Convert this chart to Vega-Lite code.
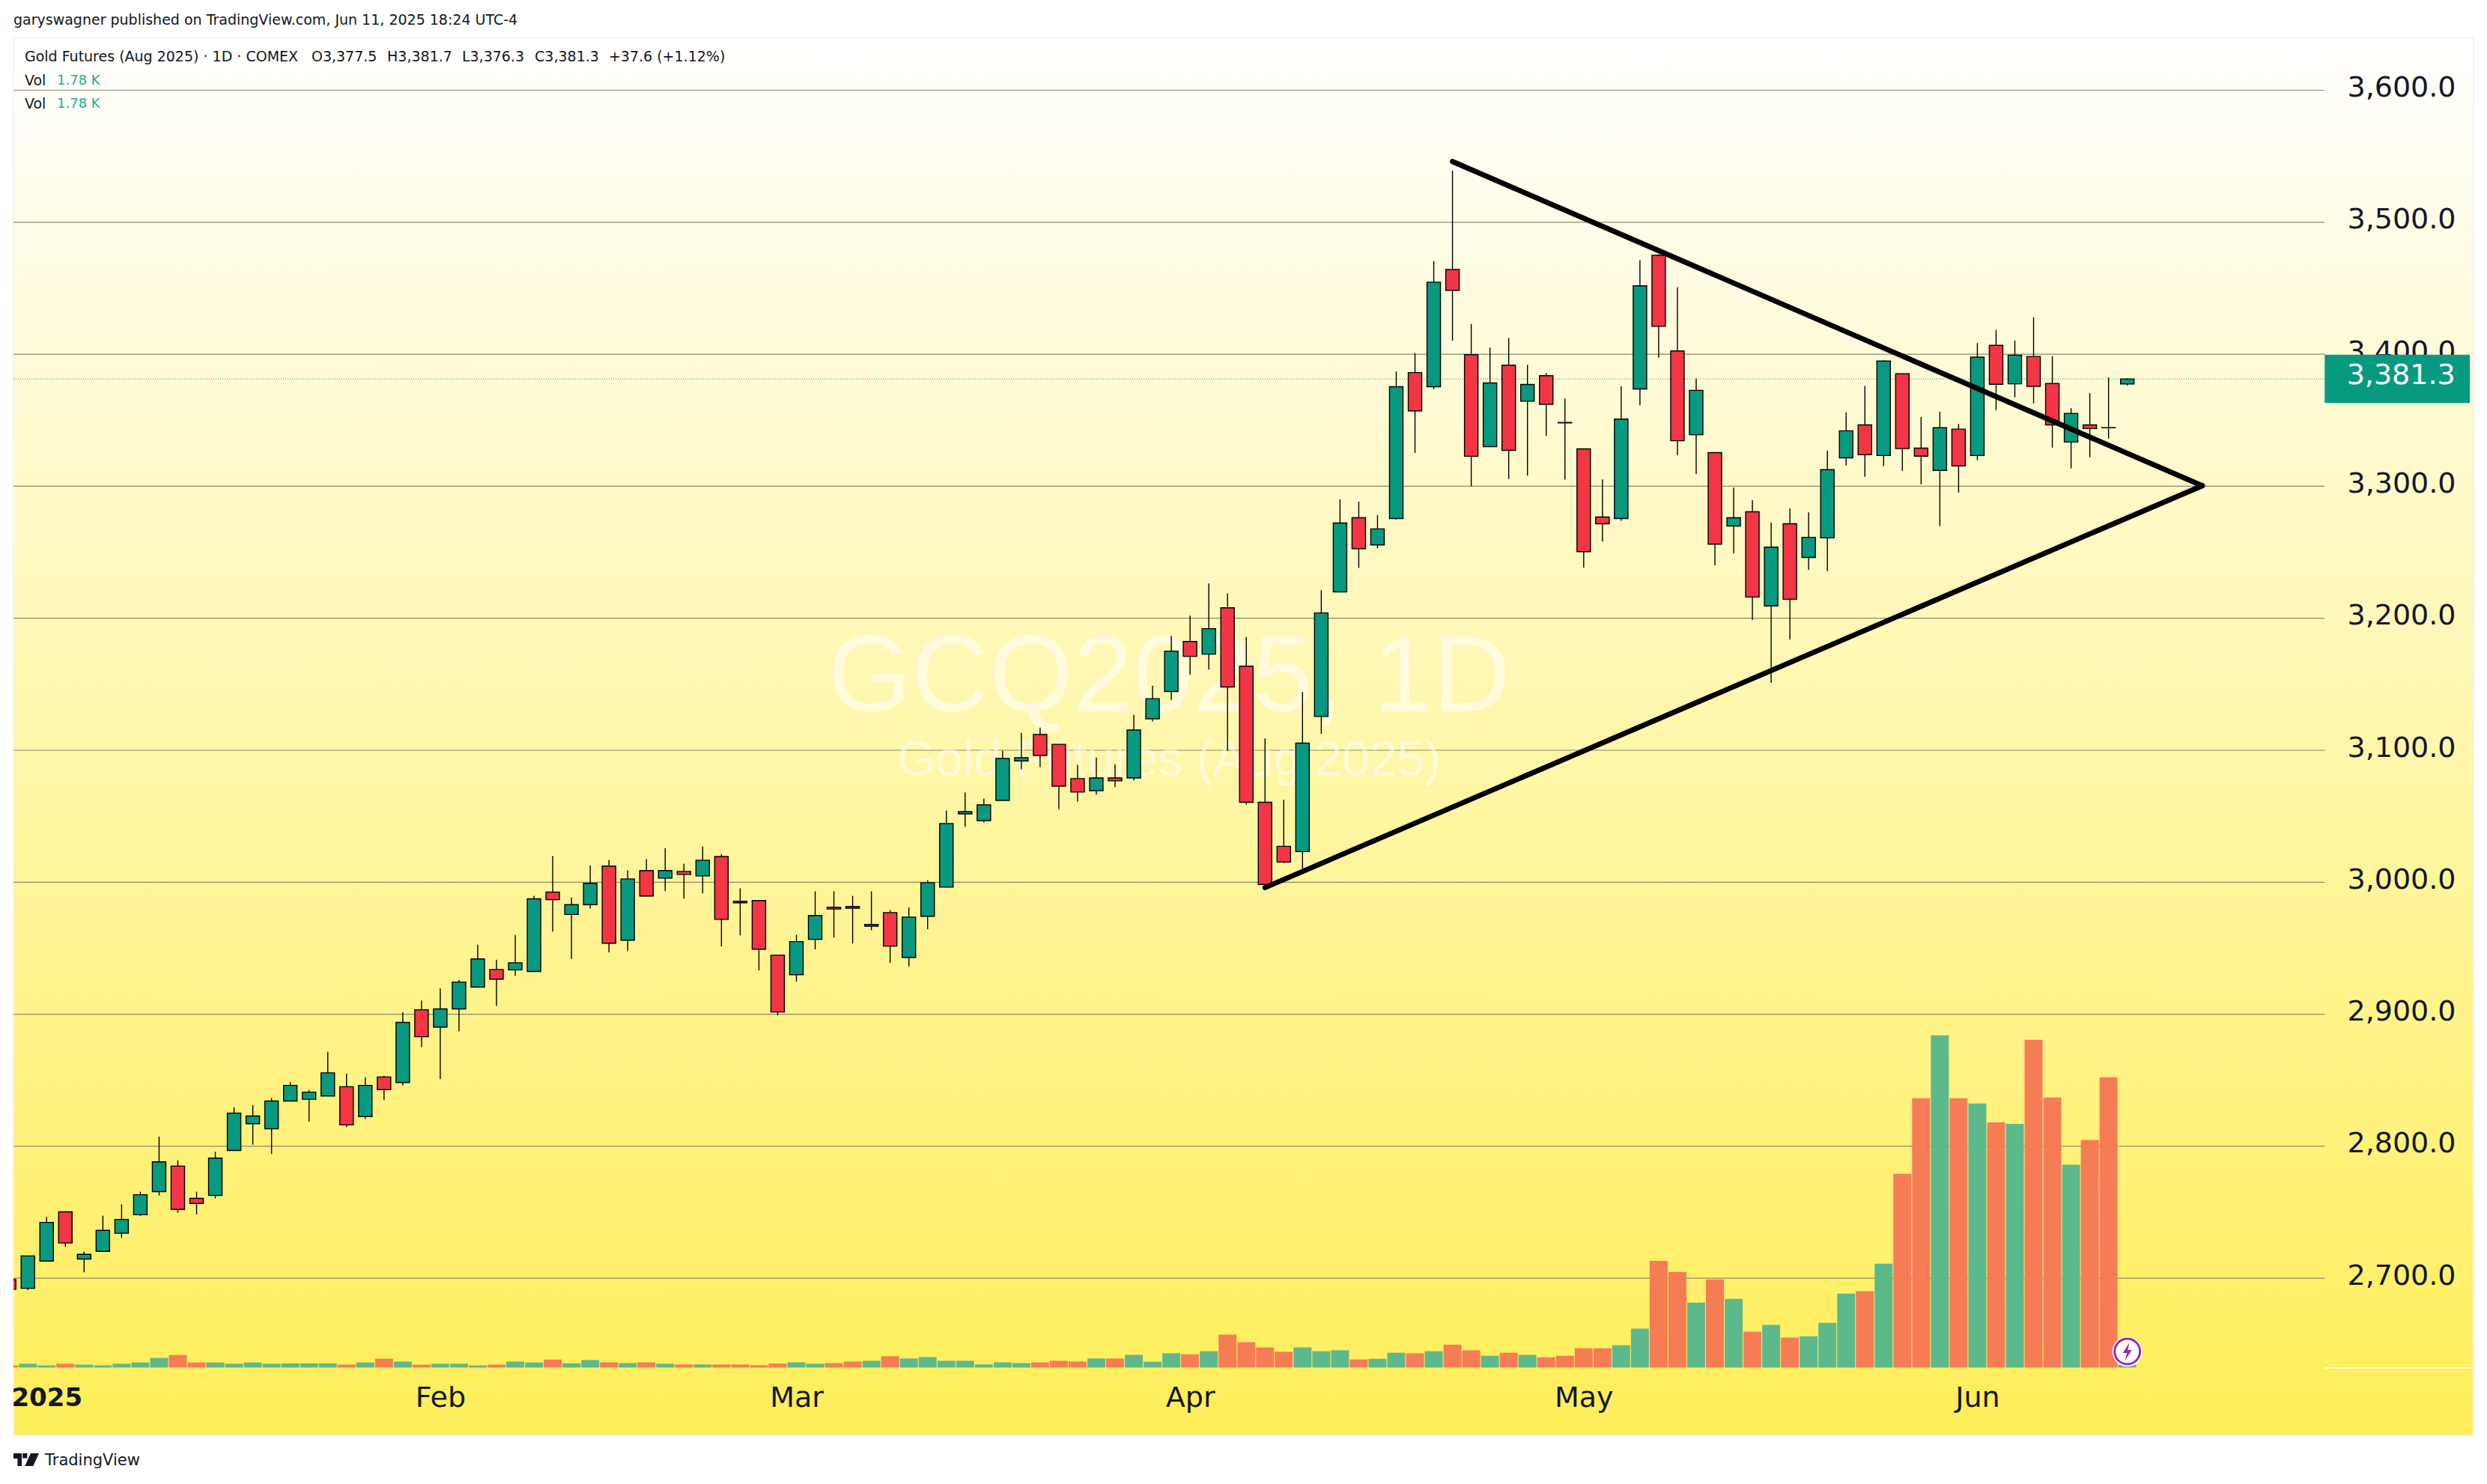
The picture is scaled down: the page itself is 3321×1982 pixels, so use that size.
{"$schema":"https://vega.github.io/schema/vega-lite/v6.json","width":3285,"height":1867,"autosize":{"type":"none"},"padding":{"left":18,"top":50,"right":18,"bottom":65},"background":"#ffffff",
"view":{"stroke":"#F0F3FA","strokeWidth":2,"fill":{"gradient":"linear","x1":0,"y1":0,"x2":0,"y2":1,"stops":[{"offset":0,"color":"#FFFFFF"},{"offset":1,"color":"#FFEE58"}]}},
"datasets":{
"bars":[
{"i":0,"o":2699,"h":2699,"l":2691.7,"c":2691.7,"v":1.4,"d":"down"},
{"i":1,"o":2692.4,"h":2716.9,"l":2691.1,"c":2716.9,"v":2.5,"d":"up"},
{"i":2,"o":2713,"h":2746.5,"l":2713,"c":2742.3,"v":1.4,"d":"up"},
{"i":3,"o":2750.3,"h":2750.3,"l":2723.6,"c":2726.7,"v":2.5,"d":"down"},
{"i":4,"o":2714.6,"h":2720.1,"l":2704.5,"c":2718.1,"v":1.9,"d":"up"},
{"i":5,"o":2720.4,"h":2747.4,"l":2719.7,"c":2736.3,"v":1.4,"d":"up"},
{"i":6,"o":2734.1,"h":2756,"l":2730.6,"c":2744.6,"v":2.5,"d":"up"},
{"i":7,"o":2748.1,"h":2765.6,"l":2747.1,"c":2763.3,"v":3.3,"d":"up"},
{"i":8,"o":2765.6,"h":2807.3,"l":2762.7,"c":2788.2,"v":6.3,"d":"up"},
{"i":9,"o":2785,"h":2789.4,"l":2749.6,"c":2752.2,"v":8.2,"d":"down"},
{"i":10,"o":2760.5,"h":2765.6,"l":2748.4,"c":2756.7,"v":3.3,"d":"down"},
{"i":11,"o":2762.7,"h":2795.8,"l":2760.5,"c":2791,"v":3.3,"d":"up"},
{"i":12,"o":2796.8,"h":2829.5,"l":2796.4,"c":2825.1,"v":2.5,"d":"up"},
{"i":13,"o":2817.1,"h":2831.1,"l":2801.2,"c":2822.9,"v":3.3,"d":"up"},
{"i":14,"o":2813.3,"h":2836.5,"l":2794.2,"c":2834.3,"v":2.5,"d":"up"},
{"i":15,"o":2834.3,"h":2848.6,"l":2834.3,"c":2846.1,"v":2.7,"d":"up"},
{"i":16,"o":2835.6,"h":2842.6,"l":2818.7,"c":2841,"v":2.7,"d":"up"},
{"i":17,"o":2838.1,"h":2871.6,"l":2838.1,"c":2855.6,"v":2.7,"d":"up"},
{"i":18,"o":2845.1,"h":2855,"l":2814.6,"c":2816.2,"v":1.9,"d":"down"},
{"i":19,"o":2822.5,"h":2852.1,"l":2820.6,"c":2846.1,"v":3.3,"d":"up"},
{"i":20,"o":2852.5,"h":2853.4,"l":2835,"c":2842.9,"v":5.8,"d":"down"},
{"i":21,"o":2848.3,"h":2901.5,"l":2846.1,"c":2893.8,"v":3.9,"d":"up"},
{"i":22,"o":2903.4,"h":2910.4,"l":2875.1,"c":2883,"v":1.9,"d":"down"},
{"i":23,"o":2890.3,"h":2919.6,"l":2850.9,"c":2904,"v":2.5,"d":"up"},
{"i":24,"o":2904,"h":2926,"l":2887.2,"c":2924.4,"v":2.5,"d":"up"},
{"i":25,"o":2920.6,"h":2952.7,"l":2920.6,"c":2941.9,"v":1.4,"d":"up"},
{"i":26,"o":2933.9,"h":2941.3,"l":2906.3,"c":2926.6,"v":1.9,"d":"down"},
{"i":27,"o":2933.6,"h":2960,"l":2929.2,"c":2939,"v":3.9,"d":"up"},
{"i":28,"o":2932.4,"h":2989.7,"l":2932.4,"c":2987.4,"v":3.3,"d":"up"},
{"i":29,"o":2992.5,"h":3019.9,"l":2962.6,"c":2986.8,"v":5.2,"d":"down"},
{"i":30,"o":2975.6,"h":2988.4,"l":2941.9,"c":2983,"v":2.7,"d":"up"},
{"i":31,"o":2983,"h":3012.6,"l":2980.1,"c":2999.2,"v":4.9,"d":"up"},
{"i":32,"o":3012.2,"h":3016.7,"l":2946.8,"c":2953.8,"v":3.4,"d":"down"},
{"i":33,"o":2956.1,"h":3009,"l":2948,"c":3002.5,"v":2.9,"d":"up"},
{"i":34,"o":3008.8,"h":3017.5,"l":2989.5,"c":2989.5,"v":3.4,"d":"down"},
{"i":35,"o":3003.1,"h":3025.8,"l":2993.3,"c":3008.8,"v":2.5,"d":"up"},
{"i":36,"o":3008.2,"h":3014.1,"l":2987.6,"c":3005.9,"v":2,"d":"down"},
{"i":37,"o":3004.8,"h":3027.1,"l":2991.6,"c":3016.7,"v":2,"d":"up"},
{"i":38,"o":3019.5,"h":3021.4,"l":2951.4,"c":2971.9,"v":2,"d":"down"},
{"i":39,"o":2985.6,"h":2995.4,"l":2959.7,"c":2984.4,"v":2,"d":"down"},
{"i":40,"o":2986.1,"h":2986.1,"l":2933.2,"c":2949.3,"v":1.5,"d":"down"},
{"i":41,"o":2944.8,"h":2944.8,"l":2899.2,"c":2901.7,"v":2.5,"d":"down"},
{"i":42,"o":2930,"h":2960.2,"l":2924.7,"c":2955,"v":3.4,"d":"up"},
{"i":43,"o":2956.7,"h":2993.1,"l":2949.1,"c":2974.8,"v":2.5,"d":"up"},
{"i":44,"o":2981,"h":2993.1,"l":2958,"c":2979.7,"v":2.9,"d":"down"},
{"i":45,"o":2981.6,"h":2989.7,"l":2953.6,"c":2980.3,"v":3.9,"d":"down"},
{"i":46,"o":2966.7,"h":2993.1,"l":2963.6,"c":2968,"v":4.4,"d":"up"},
{"i":47,"o":2977,"h":2978.9,"l":2938.9,"c":2951.6,"v":7.4,"d":"down"},
{"i":48,"o":2943,"h":2981,"l":2936.1,"c":2973.6,"v":5.9,"d":"up"},
{"i":49,"o":2974.2,"h":3001.6,"l":2964.4,"c":2999.7,"v":6.9,"d":"up"},
{"i":50,"o":2996.3,"h":3054.3,"l":2996.3,"c":3044.5,"v":4.4,"d":"up"},
{"i":51,"o":3051.8,"h":3067.9,"l":3042,"c":3053.5,"v":4.4,"d":"up"},
{"i":52,"o":3046.7,"h":3063.4,"l":3045.2,"c":3058.6,"v":2,"d":"up"},
{"i":53,"o":3062,"h":3099.6,"l":3062,"c":3093.8,"v":3.4,"d":"up"},
{"i":54,"o":3091.9,"h":3113.2,"l":3085.6,"c":3094.3,"v":2.9,"d":"up"},
{"i":55,"o":3111.9,"h":3117.2,"l":3087.3,"c":3096,"v":3.4,"d":"down"},
{"i":56,"o":3104.5,"h":3104.5,"l":3055.4,"c":3072.8,"v":4.4,"d":"down"},
{"i":57,"o":3078.5,"h":3088.9,"l":3061.1,"c":3068.3,"v":3.9,"d":"down"},
{"i":58,"o":3069.4,"h":3094.5,"l":3066.4,"c":3079,"v":5.9,"d":"up"},
{"i":59,"o":3079,"h":3089.4,"l":3072,"c":3076.8,"v":5.9,"d":"down"},
{"i":60,"o":3079,"h":3126.8,"l":3077.1,"c":3115.3,"v":8.3,"d":"up"},
{"i":61,"o":3123.8,"h":3148.9,"l":3121.9,"c":3139.1,"v":3.8,"d":"up"},
{"i":62,"o":3144.5,"h":3186.6,"l":3138.1,"c":3175.1,"v":9.3,"d":"up"},
{"i":63,"o":3182.4,"h":3201.9,"l":3157.3,"c":3171.1,"v":8.7,"d":"down"},
{"i":64,"o":3172.8,"h":3226.3,"l":3161.1,"c":3192.1,"v":10.7,"d":"up"},
{"i":65,"o":3207.9,"h":3218.9,"l":3099.5,"c":3147.9,"v":21.6,"d":"down"},
{"i":66,"o":3163.7,"h":3186,"l":3058.7,"c":3060.6,"v":16.6,"d":"down"},
{"i":67,"o":3060.6,"h":3109,"l":2998.3,"c":2998.3,"v":13.2,"d":"down"},
{"i":68,"o":3027.2,"h":3062.5,"l":3014.5,"c":3015.3,"v":10.3,"d":"down"},
{"i":69,"o":3023.2,"h":3144.1,"l":3010,"c":3105.4,"v":13.2,"d":"up"},
{"i":70,"o":3125.6,"h":3221.2,"l":3112.4,"c":3204,"v":10.7,"d":"up"},
{"i":71,"o":3220,"h":3290,"l":3220,"c":3272.2,"v":11.3,"d":"up"},
{"i":72,"o":3276.1,"h":3288.3,"l":3238.1,"c":3252.7,"v":5.3,"d":"down"},
{"i":73,"o":3255.6,"h":3278.1,"l":3253,"c":3267.7,"v":5.7,"d":"up"},
{"i":74,"o":3275.6,"h":3386.9,"l":3274.7,"c":3375.4,"v":9.7,"d":"up"},
{"i":75,"o":3386.1,"h":3400.8,"l":3325.2,"c":3357.1,"v":9.3,"d":"down"},
{"i":76,"o":3375.4,"h":3470.7,"l":3373.4,"c":3454.6,"v":10.7,"d":"up"},
{"i":77,"o":3464.2,"h":3539.2,"l":3410.3,"c":3448.4,"v":15,"d":"down"},
{"i":78,"o":3399.6,"h":3423,"l":3300.1,"c":3322.7,"v":11.3,"d":"down"},
{"i":79,"o":3330,"h":3405,"l":3330,"c":3378.2,"v":7.7,"d":"up"},
{"i":80,"o":3391.7,"h":3412.3,"l":3305.5,"c":3327.2,"v":9.7,"d":"down"},
{"i":81,"o":3364.4,"h":3392,"l":3308,"c":3377.1,"v":8.3,"d":"up"},
{"i":82,"o":3383.8,"h":3385.8,"l":3338.2,"c":3362.1,"v":6.7,"d":"down"},
{"i":83,"o":3348.3,"h":3366.4,"l":3305.2,"c":3348,"v":7.7,"d":"down"},
{"i":84,"o":3328.3,"h":3328.3,"l":3238.4,"c":3250.5,"v":12.6,"d":"down"},
{"i":85,"o":3276.7,"h":3305.2,"l":3258.1,"c":3271.6,"v":12.6,"d":"down"},
{"i":86,"o":3275.6,"h":3375.7,"l":3273.9,"c":3350.9,"v":14.6,"d":"up"},
{"i":87,"o":3373.7,"h":3471.2,"l":3361.3,"c":3451.8,"v":25.5,"d":"up"},
{"i":88,"o":3474.9,"h":3475.8,"l":3397.4,"c":3421.1,"v":69.9,"d":"down"},
{"i":89,"o":3402.5,"h":3450.9,"l":3323.5,"c":3334.5,"v":62.6,"d":"down"},
{"i":90,"o":3339,"h":3381.6,"l":3309.1,"c":3372.6,"v":42.5,"d":"up"},
{"i":91,"o":3325.5,"h":3325.5,"l":3240.1,"c":3256.1,"v":57.7,"d":"down"},
{"i":92,"o":3269.9,"h":3299,"l":3249,"c":3276.1,"v":45,"d":"up"},
{"i":93,"o":3280.7,"h":3289.4,"l":3198.9,"c":3216.1,"v":23.5,"d":"down"},
{"i":94,"o":3209.3,"h":3272.5,"l":3151,"c":3253.9,"v":27.9,"d":"up"},
{"i":95,"o":3271.6,"h":3283.2,"l":3183.9,"c":3214.4,"v":19.6,"d":"down"},
{"i":96,"o":3246.1,"h":3280.2,"l":3236.7,"c":3261.3,"v":20.5,"d":"up"},
{"i":97,"o":3260.9,"h":3327,"l":3235.7,"c":3312.6,"v":29.3,"d":"up"},
{"i":98,"o":3321.5,"h":3355.9,"l":3315.7,"c":3342,"v":48.4,"d":"up"},
{"i":99,"o":3346.5,"h":3375.9,"l":3307.2,"c":3323.9,"v":50,"d":"down"},
{"i":100,"o":3323.3,"h":3395.4,"l":3315.2,"c":3394.8,"v":68,"d":"up"},
{"i":101,"o":3385.2,"h":3385.2,"l":3311.7,"c":3328.5,"v":126.9,"d":"down"},
{"i":102,"o":3328.9,"h":3352.4,"l":3301.5,"c":3322.8,"v":176.4,"d":"down"},
{"i":103,"o":3312,"h":3356.5,"l":3269.8,"c":3344.3,"v":217.6,"d":"up"},
{"i":104,"o":3343.3,"h":3347.2,"l":3295.2,"c":3315.4,"v":176.4,"d":"down"},
{"i":105,"o":3323.3,"h":3408.5,"l":3319.8,"c":3397.8,"v":172.9,"d":"up"},
{"i":106,"o":3406.7,"h":3418.5,"l":3357.8,"c":3377.2,"v":160.6,"d":"down"},
{"i":107,"o":3377.6,"h":3410.4,"l":3367.4,"c":3399.3,"v":159.6,"d":"up"},
{"i":108,"o":3398.3,"h":3428,"l":3362.8,"c":3375.7,"v":214.6,"d":"down"},
{"i":109,"o":3377.8,"h":3398.5,"l":3329.3,"c":3346.5,"v":176.8,"d":"down"},
{"i":110,"o":3333.5,"h":3359.1,"l":3313.5,"c":3355.2,"v":132.8,"d":"up"},
{"i":111,"o":3346.5,"h":3370.7,"l":3322,"c":3343.7,"v":149,"d":"down"},
{"i":112,"o":3344.4,"h":3382.4,"l":3336.1,"c":3344.3,"v":190.1,"d":"down"},
{"i":113,"o":3377.5,"h":3381.7,"l":3376.3,"c":3381.3,"v":1.78,"d":"up"}
],
"grid":[{"i":0.232,"b":123.53,"p":2700},{"i":0.232,"b":123.53,"p":2800},{"i":0.232,"b":123.53,"p":2900},{"i":0.232,"b":123.53,"p":3000},{"i":0.232,"b":123.53,"p":3100},{"i":0.232,"b":123.53,"p":3200},{"i":0.232,"b":123.53,"p":3300},{"i":0.232,"b":123.53,"p":3400},{"i":0.232,"b":123.53,"p":3500},{"i":0.232,"b":123.53,"p":3600}],
"trend":[{"t":"upper","i":77,"p":3546},{"t":"upper","i":117,"p":3300.4},{"t":"lower","i":67,"p":2996},{"t":"lower","i":117,"p":3300.4}],
"notes":[
{"i":0.232,"p":3652.8,"label":"garyswagner published on TradingView.com, Jun 11, 2025 18:24 UTC-4"},
{"i":0.83,"p":3625,"label":"Gold Futures (Aug 2025) · 1D · COMEX"},
{"i":16.13,"p":3625,"label":"O3,377.5"},
{"i":20.17,"p":3625,"label":"H3,381.7"},
{"i":24.16,"p":3625,"label":"L3,376.3"},
{"i":28.04,"p":3625,"label":"C3,381.3"},
{"i":31.99,"p":3625,"label":"+37.6 (+1.12%)"},
{"i":0.83,"p":3607,"label":"Vol"},
{"i":0.83,"p":3589.8,"label":"Vol"}
]
},
"encoding":{"x":{"field":"i","type":"quantitative","scale":{"domain":[0.232,131.47],"nice":false,"zero":false,"padding":0},"axis":{"title":null,"orient":"bottom","values":[2,23,42,63,84,105],"labelExpr":"datum.value==2?'2025':datum.value==23?'Feb':datum.value==42?'Mar':datum.value==63?'Apr':datum.value==84?'May':'Jun'","domain":false,"ticks":false,"grid":false,"labelFont":"DejaVu Sans","labelFontSize":{"condition":{"test":"datum.value==2","value":34},"value":38},"labelColor":"#131722","labelPadding":-50,"labelBaseline":"middle","labelFlush":false,"labelOverlap":false,"labelBound":false,"labelFontWeight":{"condition":{"test":"datum.value==2","value":"bold"},"value":"normal"}}}},
"layer":[
{"data":{"name":"grid"},"mark":{"type":"rule","color":"#8E8A68","strokeWidth":1.2},"encoding":{"x2":{"field":"b"},"y":{"field":"p","type":"quantitative","scale":{"domain":[2581,3640],"nice":false,"zero":false},"axis":{"title":null,"orient":"right","values":[2700,2800,2900,3000,3100,3200,3300,3400,3500,3600],"format":",.1f","domain":false,"ticks":false,"grid":false,"labelFont":"DejaVu Sans","labelFontSize":38,"labelColor":"#131722","labelPadding":-24,"labelAlign":"right","labelBaseline":"middle","labelOffset":-3,"labelOverlap":false,"labelBound":false,"labelFlush":false}}}},
{"layer":[
{"data":{"values":[{"i":61.88,"p":3129.5,"label":"GCQ2025, 1D"}]},"mark":{"type":"text","font":"Liberation Sans","fontSize":144,"color":"#ffffff","opacity":0.55,"align":"center","baseline":"alphabetic"},"encoding":{"y":{"field":"p","type":"quantitative","scale":{"domain":[2581,3640],"nice":false,"zero":false},"axis":null},"text":{"field":"label"}}},
{"data":{"values":[{"i":61.88,"p":3080.7,"label":"Gold Futures (Aug 2025)"}]},"mark":{"type":"text","font":"Liberation Sans","fontSize":66,"color":"#ffffff","opacity":0.55,"align":"center","baseline":"alphabetic"},"encoding":{"y":{"field":"p","type":"quantitative","scale":{"domain":[2581,3640],"nice":false,"zero":false},"axis":null},"text":{"field":"label"}}}
]},
{"data":{"name":"bars"},"mark":{"type":"bar","width":24,"clip":true},"encoding":{"y":{"field":"v","type":"quantitative","scale":{"domain":[-44.4,871],"nice":false,"zero":false},"axis":null},"y2":{"datum":0},"color":{"field":"d","type":"nominal","legend":null,"scale":{"domain":["up","down"],"range":["#5DB98C","#F67C56"]}}}},
{"layer":[
{"data":{"values":[{"i":123.53,"b":131.47,"p":2632}]},"mark":{"type":"rule","color":"#ffffff","strokeWidth":1.5},"encoding":{"x2":{"field":"b"},"y":{"field":"p","type":"quantitative","scale":{"domain":[2581,3640],"nice":false,"zero":false},"axis":null}}},
{"data":{"values":[{"i":0.232,"b":123.53,"p":3381.3}]},"mark":{"type":"rule","color":"#089981","strokeWidth":1,"strokeDash":[1,2]},"encoding":{"x2":{"field":"b"},"y":{"field":"p","type":"quantitative","scale":{"domain":[2581,3640],"nice":false,"zero":false},"axis":null}}},
{"data":{"name":"bars"},"mark":{"type":"rule","color":"#000000","strokeWidth":1.4,"clip":true},"encoding":{"y":{"field":"l","type":"quantitative","scale":{"domain":[2581,3640],"nice":false,"zero":false},"axis":null},"y2":{"field":"h"}}},
{"data":{"name":"bars"},"mark":{"type":"bar","width":18,"stroke":"#000000","strokeWidth":1.4,"clip":true},"encoding":{"y":{"field":"o","type":"quantitative","scale":{"domain":[2581,3640],"nice":false,"zero":false},"axis":null},"y2":{"field":"c"},"fill":{"field":"d","type":"nominal","legend":null,"scale":{"domain":["up","down"],"range":["#089981","#F23645"]}}}},
{"data":{"name":"trend"},"mark":{"type":"line","color":"#000000","strokeWidth":7,"strokeCap":"round","strokeJoin":"round"},"encoding":{"y":{"field":"p","type":"quantitative","scale":{"domain":[2581,3640],"nice":false,"zero":false},"axis":null},"detail":{"field":"t"}}},
{"data":{"values":[{"i":123.53,"b":131.27,"p":3399.6,"q":3363}]},"mark":{"type":"rect","color":"#089981"},"encoding":{"x2":{"field":"b"},"y":{"field":"p","type":"quantitative","scale":{"domain":[2581,3640],"nice":false,"zero":false},"axis":null},"y2":{"field":"q"}}},
{"data":{"values":[{"i":130.5,"p":3383.6,"label":"3,381.3"}]},"mark":{"type":"text","font":"DejaVu Sans","fontSize":38,"color":"#ffffff","align":"right","baseline":"middle"},"encoding":{"y":{"field":"p","type":"quantitative","scale":{"domain":[2581,3640],"nice":false,"zero":false},"axis":null},"text":{"field":"label"}}},
{"data":{"values":[{"i":113,"p":2644.5}]},"mark":{"type":"point","shape":"circle","size":1600,"filled":true,"color":"#ffffff","opacity":1},"encoding":{"y":{"field":"p","type":"quantitative","scale":{"domain":[2581,3640],"nice":false,"zero":false},"axis":null}}},
{"data":{"values":[{"i":113,"p":2644.5}]},"mark":{"type":"point","shape":"circle","size":1150,"filled":false,"stroke":"#9C27B0","strokeWidth":3,"opacity":1},"encoding":{"y":{"field":"p","type":"quantitative","scale":{"domain":[2581,3640],"nice":false,"zero":false},"axis":null}}},
{"data":{"values":[{"i":113,"p":2644.5}]},"mark":{"type":"point","shape":"M0.15,-0.6 L-0.3,0.1 L-0.02,0.1 L-0.15,0.6 L0.3,-0.1 L0.02,-0.1 Z","size":1600,"filled":true,"color":"#9C27B0","opacity":1},"encoding":{"y":{"field":"p","type":"quantitative","scale":{"domain":[2581,3640],"nice":false,"zero":false},"axis":null}}},
{"data":{"name":"notes"},"mark":{"type":"text","font":"DejaVu Sans","fontSize":19,"color":"#131722","align":"left","baseline":"middle"},"encoding":{"y":{"field":"p","type":"quantitative","scale":{"domain":[2581,3640],"nice":false,"zero":false},"axis":null},"text":{"field":"label"}}},
{"data":{"values":[{"i":2.55,"p":3607,"label":"1.78 K"},{"i":2.55,"p":3589.8,"label":"1.78 K"}]},"mark":{"type":"text","font":"DejaVu Sans","fontSize":18,"color":"#22AB94","align":"left","baseline":"middle"},"encoding":{"y":{"field":"p","type":"quantitative","scale":{"domain":[2581,3640],"nice":false,"zero":false},"axis":null},"text":{"field":"label"}}},
{"data":{"values":[{"i":1.91,"p":2561.7,"label":"TradingView"}]},"mark":{"type":"text","font":"DejaVu Sans","fontSize":21,"color":"#131722","align":"left","baseline":"middle"},"encoding":{"y":{"field":"p","type":"quantitative","scale":{"domain":[2581,3640],"nice":false,"zero":false},"axis":null},"text":{"field":"label"}}},
{"data":{"values":[{"i":0.91,"p":2562.5}]},"mark":{"type":"point","shape":"M-1,-0.5 L-0.35,-0.5 L-0.35,0.5 L-0.68,0.5 L-0.68,-0.1 L-1,-0.1 Z M-0.28,-0.5 L0.08,-0.5 L0.08,-0.12 L-0.28,-0.12 Z M0.35,-0.5 L1,-0.5 L0.55,0.5 L-0.1,0.5 Z","size":1156,"filled":true,"color":"#131722","opacity":1},"encoding":{"y":{"field":"p","type":"quantitative","scale":{"domain":[2581,3640],"nice":false,"zero":false},"axis":null}}}
]}
],
"resolve":{"scale":{"y":"independent"}},
"config":{"axis":{"labelLimit":0}}
}
